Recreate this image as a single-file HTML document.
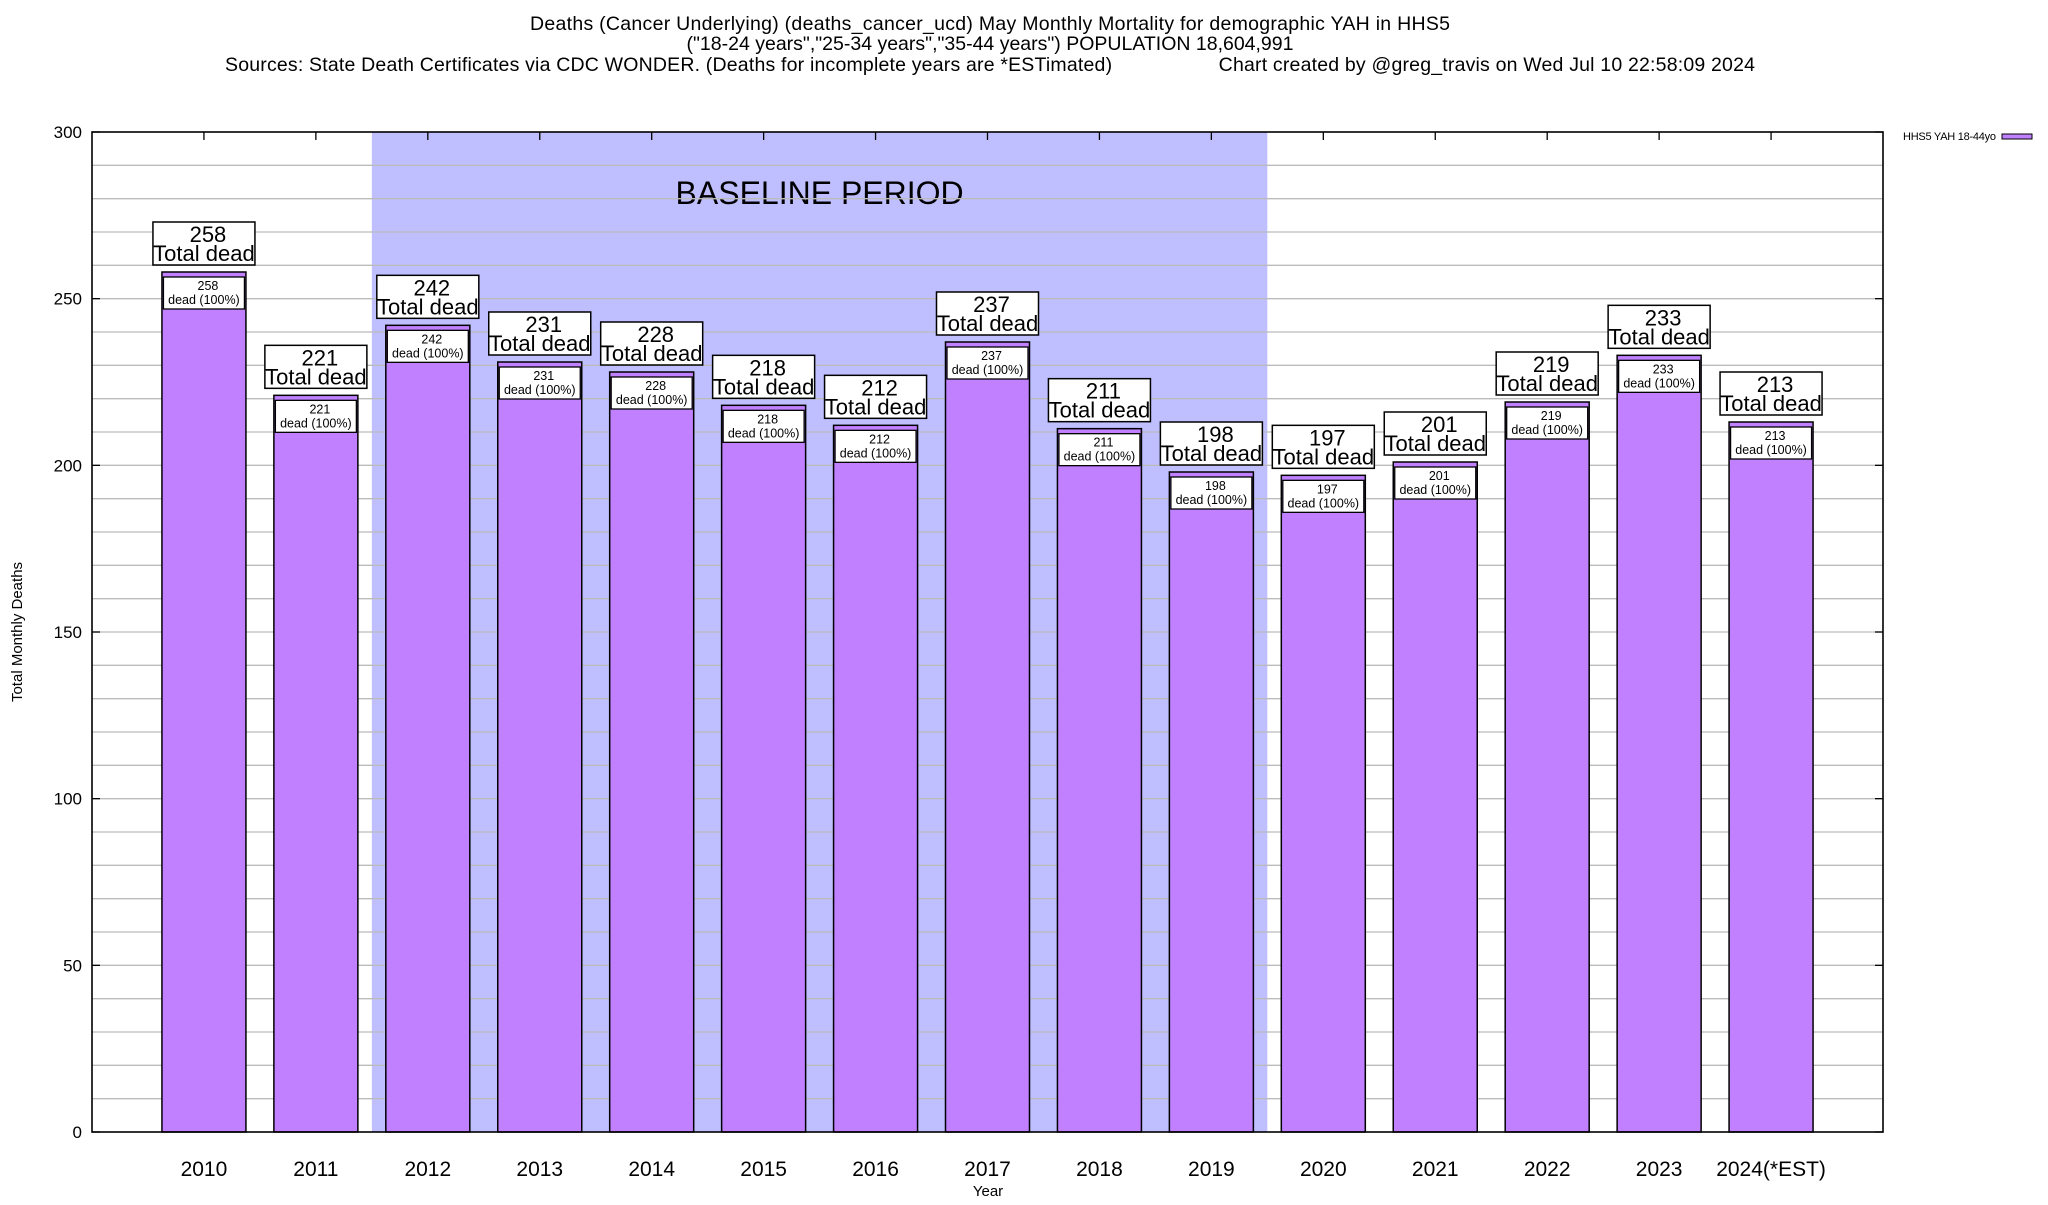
<!DOCTYPE html>
<html><head><meta charset="utf-8"><style>
body{margin:0;background:#fff;}
svg text{font-family:"Liberation Sans",Arial,sans-serif;}
</style></head><body>
<svg id="chart" width="2048" height="1200" xmlns="http://www.w3.org/2000/svg">
<g font-size="19.5" text-anchor="middle">
<text x="990" y="30" textLength="920">Deaths (Cancer Underlying) (deaths_cancer_ucd) May Monthly Mortality for demographic YAH in HHS5</text>
<text x="990" y="50">("18-24 years","25-34 years","35-44 years") POPULATION 18,604,991</text>
<text x="990" y="71" textLength="1530" xml:space="preserve">Sources: State Death Certificates via CDC WONDER. (Deaths for incomplete years are *ESTimated)                   Chart created by @greg_travis on Wed Jul 10 22:58:09 2024</text>
</g>
<text x="22" y="632" font-size="15" text-anchor="middle" transform="rotate(-90 22 632)">Total Monthly Deaths</text>
<text x="988" y="1196" font-size="15" text-anchor="middle">Year</text>
<g>
<text x="1903" y="140" font-size="11" textLength="93">HHS5 YAH 18-44yo</text>
<rect x="2002" y="134" width="30" height="5" fill="#c080ff" stroke="#000" stroke-width="1"/>
</g>
<g id="plot"></g>
</svg>
<script>
const categories=["2010","2011","2012","2013","2014","2015","2016","2017","2018","2019","2020","2021","2022","2023","2024(*EST)"];
const deaths=[258,221,242,231,228,218,212,237,211,198,197,201,219,233,213];
const yTicks=[0,50,100,150,200,250,300];
const baselineStart="2012", baselineEnd="2019";
const L=92,R=1883,T=132,B=1132,yMax=300;
const slot=(R-L)/16;
const xs=i=>L+slot*(i+1);
const ys=v=>B-(v/yMax)*(B-T);
const NS="http://www.w3.org/2000/svg";
const plot=document.getElementById('plot');
function mk(tag,attrs,parent,txt){const e=document.createElementNS(NS,tag);for(const k in attrs)e.setAttribute(k,attrs[k]);if(txt!==undefined)e.textContent=txt;(parent||plot).appendChild(e);return e;}
const bs=categories.indexOf(baselineStart),be=categories.indexOf(baselineEnd);
let sh=mk('rect',{x:xs(bs)-slot/2,y:T,width:(be-bs+1)*slot,height:B-T,fill:'#bfbfff'});


let bt=mk('text',{x:xs(bs)-slot/2+(be-bs+1)*slot/2,y:204,'font-size':32,'text-anchor':'middle'},plot,'BASELINE PERIOD');


for(let v=10;v<yMax;v+=10){let g=mk('line',{x1:L,x2:R,y1:ys(v),y2:ys(v),stroke:'#bbb','stroke-width':1.3});

}
yTicks.forEach(v=>{let t=mk('text',{x:82,y:ys(v)+6,'font-size':17,'text-anchor':'end'},plot,String(v));


mk('line',{x1:L,x2:L+8,y1:ys(v),y2:ys(v),stroke:'#000','stroke-width':1.3});
mk('line',{x1:R,x2:R-8,y1:ys(v),y2:ys(v),stroke:'#000','stroke-width':1.3});});
categories.forEach((c,i)=>{
const cx=xs(i),v=deaths[i],top=ys(v);
let b=mk('rect',{x:cx-42,y:top,width:84,height:B-top,fill:'#c080ff',stroke:'#000','stroke-width':1.5});


let sb=mk('rect',{x:cx-40.5,y:top+5,width:81,height:32,fill:'#fff',stroke:'#000','stroke-width':1.3});


mk('text',{x:cx+4,y:top+18,'font-size':12.5,'text-anchor':'middle'},plot,String(v));
mk('text',{x:cx,y:top+32,'font-size':12.5,'text-anchor':'middle'},plot,'dead (100%)');
let lb=mk('rect',{x:cx-51,y:top-50,width:102,height:43,fill:'#fff',stroke:'#000','stroke-width':1.5});


mk('text',{x:cx+4,y:top-30,'font-size':22,'text-anchor':'middle'},plot,String(v));
mk('text',{x:cx,y:top-11,'font-size':22,'text-anchor':'middle'},plot,'Total dead');
let xl=mk('text',{x:cx,y:1176,'font-size':21,'text-anchor':'middle'},plot,c);


mk('line',{x1:cx,x2:cx,y1:T,y2:T+8,stroke:'#000','stroke-width':1.3});
});
let fr=mk('rect',{x:L,y:T,width:R-L,height:B-T,fill:'none',stroke:'#000','stroke-width':1.6});


</script>
</body></html>
